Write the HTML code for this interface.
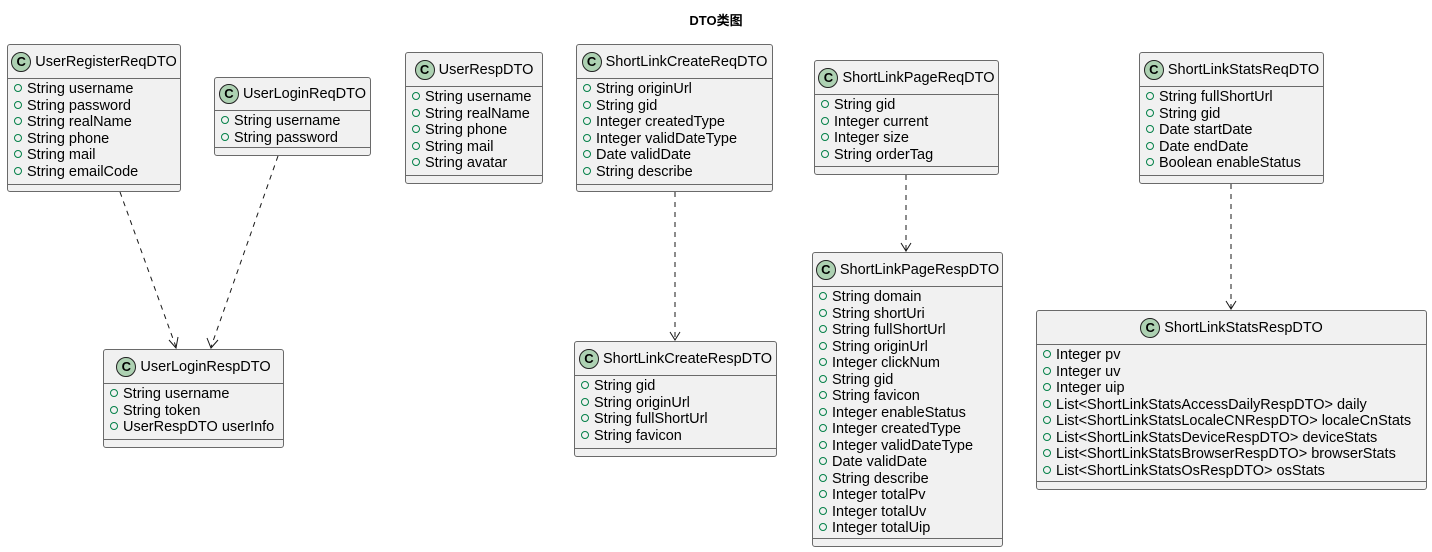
<!DOCTYPE html>
<html><head><meta charset="utf-8"><style>
body{margin:0;width:1432px;height:552px;background:#fff;position:relative;overflow:hidden;font-family:"Liberation Sans","Noto Sans CJK SC",sans-serif;}
.t{position:absolute;left:0;width:1432px;top:10px;text-align:center;font-weight:bold;font-size:13px;}
.b{position:absolute;background:#f1f1f1;border:1px solid #6a6a6a;border-radius:3px;box-sizing:border-box;}
.h{display:flex;align-items:center;justify-content:center;border-bottom:1px solid #6a6a6a;box-sizing:border-box;font-size:14.5px;white-space:nowrap;}
.c{width:20px;height:20px;border-radius:50%;background:#add1b2;border:1px solid #222;box-sizing:border-box;font-weight:bold;font-size:13px;line-height:18px;text-align:center;margin-right:4px;flex:none;}
.a{border-bottom:1px solid #6a6a6a;box-sizing:border-box;padding:2px 0 0 6px;font-size:14.5px;line-height:16.5px;white-space:nowrap;}
.a div:before{content:"";display:inline-block;width:6px;height:6px;border:1px solid #038048;border-radius:50%;margin-right:5px;vertical-align:1px;}
</style></head><body>
<div class="t">DTO类图</div>

<div class="b" style="left:7px;top:44px;width:174px;height:148px"><div class="h" style="height:34px"><span class="c">C</span>UserRegisterReqDTO</div><div class="a" style="height:106px"><div>String username</div><div>String password</div><div>String realName</div><div>String phone</div><div>String mail</div><div>String emailCode</div></div></div>

<div class="b" style="left:214px;top:77px;width:157px;height:79px"><div class="h" style="height:33px"><span class="c">C</span>UserLoginReqDTO</div><div class="a" style="height:37px"><div>String username</div><div>String password</div></div></div>

<div class="b" style="left:405px;top:52px;width:138px;height:132px"><div class="h" style="height:34px"><span class="c">C</span>UserRespDTO</div><div class="a" style="height:89px"><div>String username</div><div>String realName</div><div>String phone</div><div>String mail</div><div>String avatar</div></div></div>

<div class="b" style="left:576px;top:44px;width:197px;height:148px"><div class="h" style="height:34px"><span class="c">C</span>ShortLinkCreateReqDTO</div><div class="a" style="height:106px"><div>String originUrl</div><div>String gid</div><div>Integer createdType</div><div>Integer validDateType</div><div>Date validDate</div><div>String describe</div></div></div>

<div class="b" style="left:814px;top:60px;width:185px;height:115px"><div class="h" style="height:34px"><span class="c">C</span>ShortLinkPageReqDTO</div><div class="a" style="height:72px"><div>String gid</div><div>Integer current</div><div>Integer size</div><div>String orderTag</div></div></div>

<div class="b" style="left:1139px;top:52px;width:185px;height:132px"><div class="h" style="height:34px"><span class="c">C</span>ShortLinkStatsReqDTO</div><div class="a" style="height:89px"><div>String fullShortUrl</div><div>String gid</div><div>Date startDate</div><div>Date endDate</div><div>Boolean enableStatus</div></div></div>

<div class="b" style="left:103px;top:349px;width:181px;height:99px"><div class="h" style="height:34px"><span class="c">C</span>UserLoginRespDTO</div><div class="a" style="height:56px"><div>String username</div><div>String token</div><div>UserRespDTO userInfo</div></div></div>

<div class="b" style="left:574px;top:341px;width:203px;height:116px"><div class="h" style="height:34px"><span class="c">C</span>ShortLinkCreateRespDTO</div><div class="a" style="height:73px"><div>String gid</div><div>String originUrl</div><div>String fullShortUrl</div><div>String favicon</div></div></div>

<div class="b" style="left:812px;top:252px;width:191px;height:295px"><div class="h" style="height:34px"><span class="c">C</span>ShortLinkPageRespDTO</div><div class="a" style="height:252px"><div>String domain</div><div>String shortUri</div><div>String fullShortUrl</div><div>String originUrl</div><div>Integer clickNum</div><div>String gid</div><div>String favicon</div><div>Integer enableStatus</div><div>Integer createdType</div><div>Integer validDateType</div><div>Date validDate</div><div>String describe</div><div>Integer totalPv</div><div>Integer totalUv</div><div>Integer totalUip</div></div></div>

<div class="b" style="left:1036px;top:310px;width:391px;height:180px"><div class="h" style="height:34px"><span class="c">C</span>ShortLinkStatsRespDTO</div><div class="a" style="height:137px"><div>Integer pv</div><div>Integer uv</div><div>Integer uip</div><div>List&lt;ShortLinkStatsAccessDailyRespDTO&gt; daily</div><div>List&lt;ShortLinkStatsLocaleCNRespDTO&gt; localeCnStats</div><div>List&lt;ShortLinkStatsDeviceRespDTO&gt; deviceStats</div><div>List&lt;ShortLinkStatsBrowserRespDTO&gt; browserStats</div><div>List&lt;ShortLinkStatsOsRespDTO&gt; osStats</div></div></div>

<svg width="1432" height="552" style="position:absolute;left:0;top:0" fill="none" stroke="#181818" stroke-width="1">
<g stroke-dasharray="5,5">
<line x1="120" y1="192" x2="176" y2="347"/>
<line x1="278" y1="156" x2="211" y2="347"/>
<line x1="675" y1="192" x2="675" y2="339"/>
<line x1="906" y1="175" x2="906" y2="250"/>
<line x1="1231" y1="184" x2="1231" y2="308"/>
</g>
<polyline points="169,340 176,348 178,337"/>
<polyline points="207,338 211,348 218,340"/>
<polyline points="670,332 675,340 680,332"/>
<polyline points="901,243 906,251 911,243"/>
<polyline points="1226,301 1231,309 1236,301"/>
</svg>
</body></html>
